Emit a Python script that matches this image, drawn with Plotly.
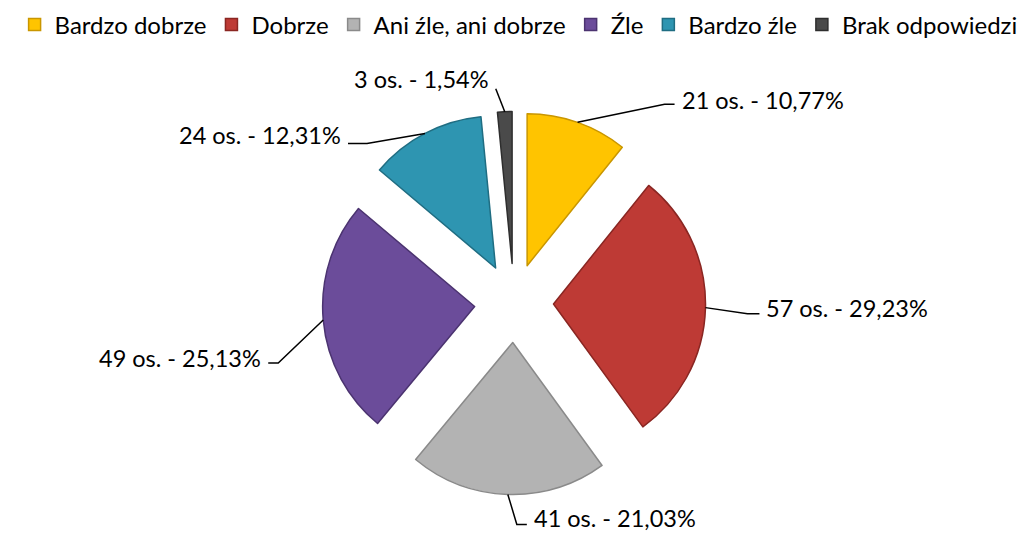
import math
import plotly.graph_objects as go

# ---- data ----
categories = ["Bardzo dobrze", "Dobrze", "Ani źle, ani dobrze", "Źle", "Bardzo źle", "Brak odpowiedzi"]
counts = [21, 57, 41, 49, 24, 3]

# ---- style ----
colors = ["#FFC400", "#BE3A35", "#B3B3B3", "#6B4C9A", "#2E95B1", "#4A4A4A"]
edge_colors = ["#C99600", "#8A2622", "#8A8A8A", "#4B3370", "#1F6D82", "#2E2E2E"]
FONT = "Lato, Calibri, Carlito, sans-serif"
FS_LABEL = 23.5
FS_LEGEND = 24

W, H = 1031, 534
cx, cy, r, pull = 514, 303, 152, 0.26   # pie geometry in px
S = 2 * r * (1 + pull)
dom_x = [(cx - S / 2) / W, (cx + S / 2) / W]
y0 = 1 - (cy + S / 2) / H
dom_y = [y0, y0 + S / H]

# leader-line layout per slice: (elbow dx, elbow dy, tail length, text dy)
label_layout = [(87, -18, 10, -4), (42, 6, 12, -6), (9, 30, 10, -6),
                (-45, 43, -10, -5), (-58, 10, -19, -8), (-9, -23, 0, -10)]

total = sum(counts)
texts = []
for c in counts:
    p = f"{100 * c / total:.2f}".replace(".", ",")
    texts.append(f"{c} os. - {p}%")

fig = go.Figure(go.Pie(
    labels=categories, values=counts, sort=False, direction="clockwise", rotation=0,
    pull=[pull] * len(counts), textinfo="none", hoverinfo="label+value+percent",
    marker=dict(colors=colors, line=dict(color=edge_colors, width=1.5)),
    domain=dict(x=dom_x, y=dom_y),
))

def px2paper(x, y):
    return x / W, 1 - y / H

shapes, annotations = [], []
cum = 0
for i, c in enumerate(counts):
    mid = (cum + c / 2) / total * 2 * math.pi
    cum += c
    ax_ = cx + r * (1 + pull) * math.sin(mid)
    ay_ = cy - r * (1 + pull) * math.cos(mid)
    edx, edy, tail, tdy = label_layout[i]
    ex, ey = ax_ + edx, ay_ + edy
    tx = ex + tail
    pts = [px2paper(ax_, ay_), px2paper(ex, ey), px2paper(tx, ey)]
    path = "M{},{} L{},{} L{},{}".format(*[v for p in pts for v in p])
    shapes.append(dict(type="path", path=path, xref="paper", yref="paper",
                       line=dict(color="black", width=1.5)))
    side = 1 if (tail > 0 or (tail == 0 and edx > 0)) else -1
    lx, ly = px2paper(tx + 5 * side, ey + tdy)
    annotations.append(dict(x=lx, y=ly, xref="paper", yref="paper", text=texts[i],
                            showarrow=False, xanchor="left" if side > 0 else "right",
                            yanchor="middle", font=dict(family=FONT, size=FS_LABEL, color="black")))

fig.update_layout(
    width=W, height=H, margin=dict(l=0, r=0, t=0, b=0),
    paper_bgcolor="white", plot_bgcolor="white",
    font=dict(family=FONT, size=FS_LABEL, color="black"),
    showlegend=True,
    legend=dict(orientation="h", x=0.503, xanchor="center", y=1 - 25 / H, yanchor="middle",
                font=dict(family=FONT, size=FS_LEGEND, color="black"), itemwidth=30,
                traceorder="normal"),
    shapes=shapes, annotations=annotations,
)

fig.write_html("out.html", config={"displayModeBar": False},
               post_script="document.body.style.margin='0';document.body.style.padding='0';")
